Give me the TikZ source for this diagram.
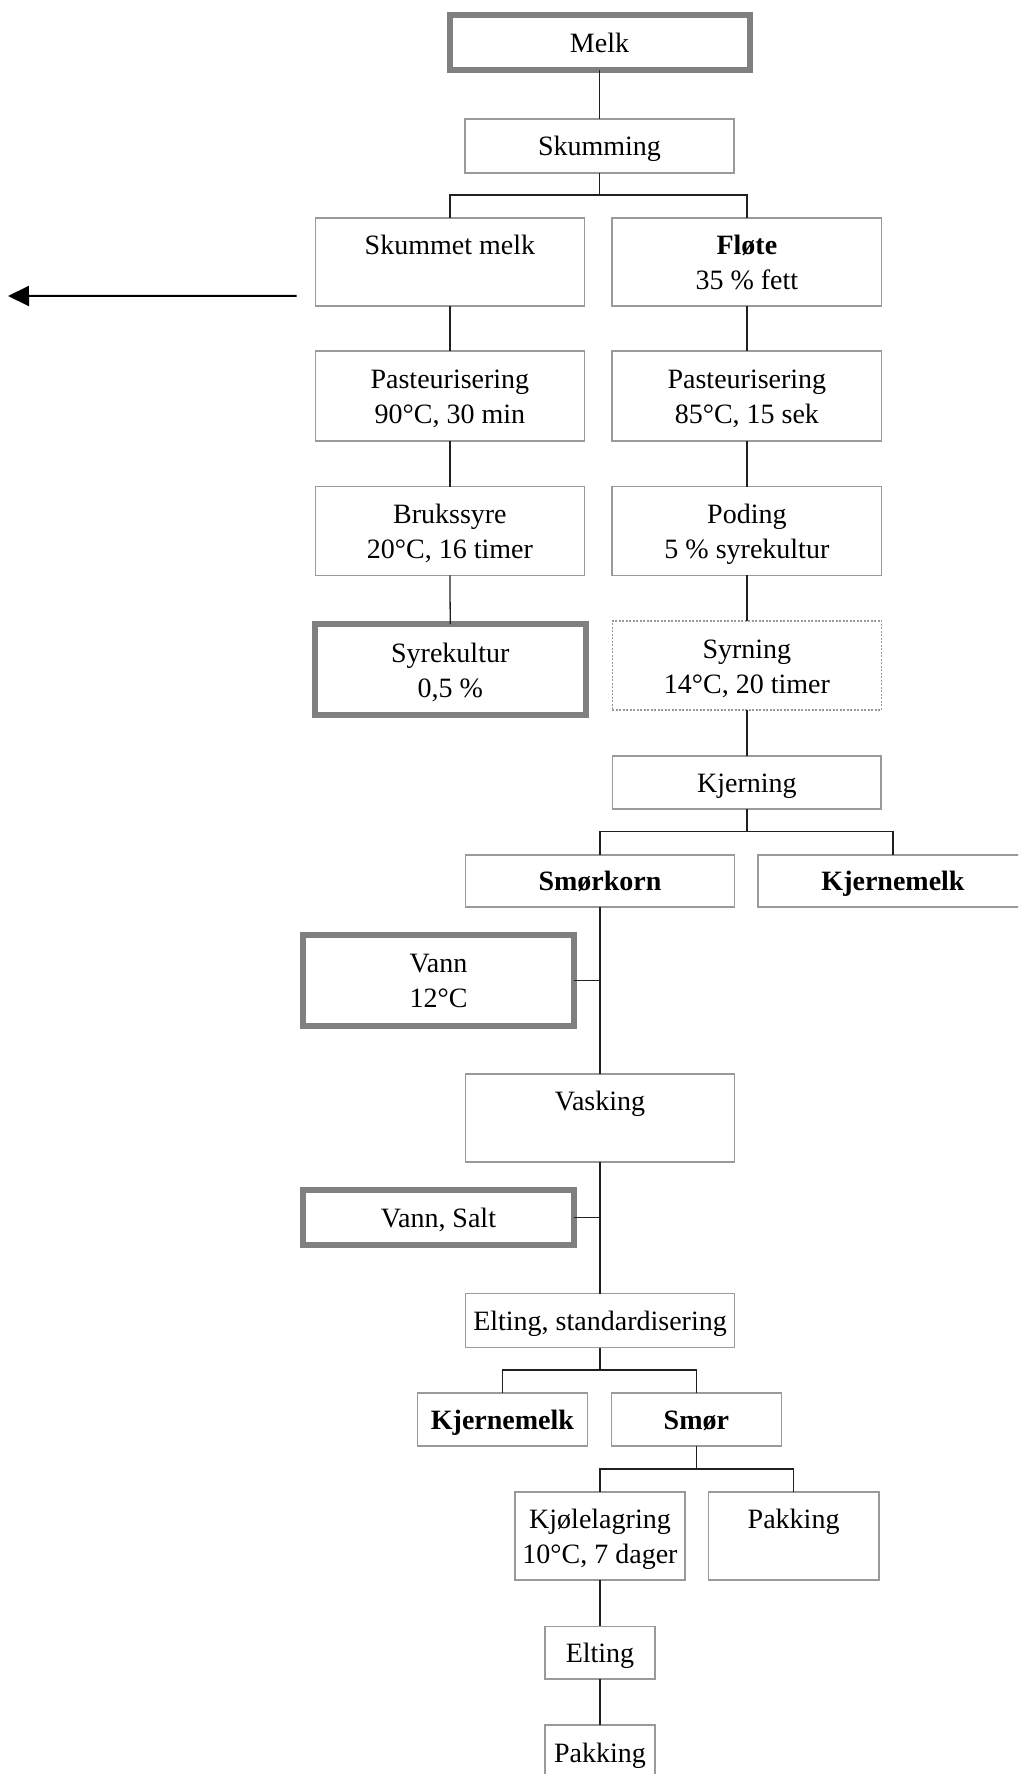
\documentclass[tikz,border=0pt]{standalone}
\usepackage{fontspec}
\setmainfont{Liberation Serif}
\usetikzlibrary{arrows.meta,calc}

\definecolor{framegray}{HTML}{9A9A9A}
\definecolor{heavygray}{HTML}{808080}
\definecolor{linkgray}{HTML}{202020}

% line strut: 27.5pt above and 7.5pt below the baseline
\newcommand{\ls}{\rule[-7.5pt]{0pt}{35pt}}

\tikzset{
  flowbox/.style={draw=framegray, line width=1.5pt, rectangle, inner sep=0pt, outer sep=0pt,
    align=center, font=\fontsize{28}{35}\selectfont},
  inputbox/.style={flowbox, draw=heavygray, line width=6pt},
  dottedbox/.style={flowbox, line width=1.2pt, dash pattern=on 2pt off 1.5pt},
  link/.style={draw=linkgray, line width=1.3pt},
  outarrow/.style={draw=black, line width=2pt, -{Triangle[length=21pt,width=20pt]}}
}

% box of given width and height, centred at (x,y)
\newcommand{\flowstep}[7]{%
  \node[#1, minimum width=#5pt, minimum height=#6pt] (#2) at (#3,#4) {#7};}

\begin{document}
\begin{tikzpicture}[x=1pt, y=-1pt]
\useasboundingbox (0,0) rectangle (1018,1774);
\clip (0,0) rectangle (1018,1774);

% column of the whole milk and the cream
\flowstep{inputbox}{melk}{599.5}{42.5}{300}{55.6}{\ls Melk}
\flowstep{flowbox}{skum}{599.5}{145.9}{268.8}{53.7}{\ls Skumming}
\flowstep{flowbox}{skm}{449.9}{261.9}{268.8}{87.7}{\ls Skummet melk\\\ls}
\flowstep{flowbox}{flote}{746.9}{261.9}{269.4}{87.7}{\ls\textbf{Fløte}\\\ls 35 \% fett}
\flowstep{flowbox}{pastl}{449.9}{396}{268.8}{90}{\ls Pasteurisering\\\ls 90°C, 30 min}
\flowstep{flowbox}{pastr}{746.9}{396}{269.4}{90}{\ls Pasteurisering\\\ls 85°C, 15 sek}
\flowstep{flowbox}{bruk}{449.9}{531}{268.8}{88.6}{\ls Brukssyre\\\ls 20°C, 16 timer}
\flowstep{flowbox}{poding}{746.9}{531}{269.4}{88.6}{\ls Poding\\\ls 5 \% syrekultur}
\flowstep{inputbox}{syrek}{450.25}{669.5}{271.3}{91}{\ls Syrekultur\\\ls 0,5 \%}
\flowstep{dottedbox}{syrning}{746.9}{665.5}{269.4}{89}{\ls Syrning\\\ls 14°C, 20 timer}
\flowstep{flowbox}{kjerning}{746.9}{782.4}{268.6}{53.3}{\ls Kjerning}

% butter grains and washing
\flowstep{flowbox}{korn}{600}{880.9}{269.3}{52.3}{\ls\textbf{Smørkorn}}
\flowstep{flowbox}{kjm}{893}{880.9}{270}{52.3}{\ls\textbf{Kjernemelk}}
\flowstep{inputbox}{vann}{438.5}{980.4}{270.2}{90.7}{\ls Vann\\\ls 12°C}
\flowstep{flowbox}{vask}{600}{1117.9}{269.3}{88.3}{\ls Vasking\\\ls}
\flowstep{inputbox}{salt}{438.5}{1217.2}{270.2}{54.9}{\ls Vann, Salt}
\flowstep{flowbox}{std}{600}{1320.6}{269.3}{53.8}{\ls Elting, standardisering}

% finished products
\flowstep{flowbox}{kjmb}{502.45}{1419.5}{169.9}{53}{\ls\textbf{Kjernemelk}}
\flowstep{flowbox}{smor}{696.35}{1419.5}{169.9}{53}{\ls\textbf{Smør}}
\flowstep{flowbox}{kjol}{600}{1535.9}{170}{88.3}{\ls Kjølelagring\\\ls 10°C, 7 dager}
\flowstep{flowbox}{pakkr}{793.6}{1535.9}{170.4}{88.3}{\ls Pakking\\\ls}
\flowstep{flowbox}{elt}{600}{1652.7}{109.7}{52.6}{\ls Elting}
\flowstep{flowbox}{pakk}{600}{1752.5}{109.7}{55}{\ls Pakking}

% connectors
\draw[link] (melk.south) -- (skum.north);
\draw[link] (skum.south) -- ++(0,22.3) coordinate (split1);
\draw[link] (skm.north) |- (split1) -| (flote.north);
\draw[link] (skm.south) -- (pastl.north);
\draw[link] (pastl.south) -- (bruk.north);
\draw[link] (bruk.south) -- (syrek.north);
\draw[link] (flote.south) -- (pastr.north);
\draw[link] (pastr.south) -- (poding.north);
\draw[link] (poding.south) -- (syrning.north);
\draw[link] (syrning.south) -- (kjerning.north);
\draw[link] (kjerning.south) -- ++(0,22.7) coordinate (split2);
\draw[link] (korn.north) |- (split2) -| (kjm.north);
\draw[link] (korn.south) -- (vask.north);
\draw[link] (vann.east) -- (vann.east -| korn.south);
\draw[link] (vask.south) -- (std.north);
\draw[link] (salt.east) -- (salt.east -| vask.south);
\draw[link] (std.south) -- ++(0,22.5) coordinate (split3);
\draw[link] (kjmb.north) |- (split3) -| (smor.north);
\draw[link] (smor.south) -- ++(0,23) coordinate (split4);
\draw[link] (kjol.north) |- (split4) -| (pakkr.north);
\draw[link] (kjol.south) -- (elt.north);
\draw[link] (elt.south) -- (pakk.north);

% skimmed milk leaves the process
\coordinate (skmout) at ($(skm.west)+(-19,34)$);
\coordinate (skmend) at (8,296);
\draw[outarrow] (skmout) -- (skmend);
\end{tikzpicture}
\end{document}
